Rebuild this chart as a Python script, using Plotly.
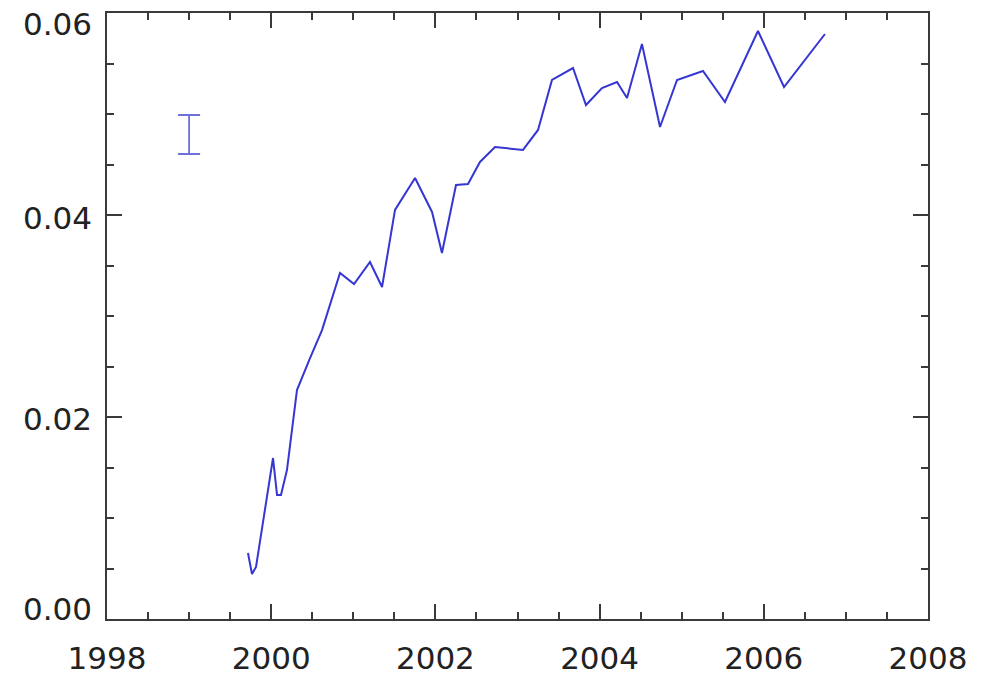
import plotly.graph_objects as go

# Time axis in decimal years and the measured fraction
years = [1999.717, 1999.766, 1999.815, 2000.022, 2000.071, 2000.119, 2000.192,
         2000.314, 2000.473, 2000.619, 2000.838, 2001.009, 2001.203, 2001.350,
         2001.508, 2001.752, 2001.959, 2002.080, 2002.251, 2002.397, 2002.543,
         2002.726, 2003.067, 2003.250, 2003.420, 2003.676, 2003.834, 2004.029,
         2004.212, 2004.334, 2004.516, 2004.736, 2004.943, 2005.259, 2005.527,
         2005.929, 2006.246, 2006.745]
values = [0.00653, 0.00446, 0.00515, 0.01594, 0.01228, 0.01228, 0.01475,
          0.02267, 0.02584, 0.02861, 0.03426, 0.03317, 0.03535, 0.03287,
          0.04050, 0.04366, 0.04030, 0.03624, 0.04297, 0.04307, 0.04525,
          0.04673, 0.04644, 0.04842, 0.05337, 0.05455, 0.05089, 0.05257,
          0.05317, 0.05158, 0.05693, 0.04871, 0.05337, 0.05426, 0.05119,
          0.05822, 0.05267, 0.05792]

# Representative uncertainty shown as a single error bar
err_x = [1999.0]
err_center = [0.04797]
err_half = [0.00193]

x_ticks = [1998, 2000, 2002, 2004, 2006, 2008]
y_ticks = [0.00, 0.02, 0.04, 0.06]
y_tick_text = ["0.00", "0.02", "0.04", "0.06"]

# y labels are written beside the axis; the end labels sit inside the frame
y_label_shift = [10, -2, -3, -11]

line_color = "#3636d2"
axis_color = "#3a3a3a"
font = dict(family="DejaVu Sans, Verdana, sans-serif", size=31, color="#222222")

fig = go.Figure()
fig.add_trace(go.Scatter(
    x=years, y=values, mode="lines",
    line=dict(color=line_color, width=2),
    showlegend=False, hoverinfo="skip",
))
fig.add_trace(go.Scatter(
    x=err_x, y=err_center, mode="markers",
    marker=dict(size=1, color="rgba(0,0,0,0)"),
    error_y=dict(type="data", array=err_half, visible=True,
                 color="#6f6fdc", thickness=1.8, width=11),
    showlegend=False, hoverinfo="skip",
))

axis_common = dict(
    showgrid=False, zeroline=False, automargin=False,
    showline=True, linecolor=axis_color, linewidth=2, mirror="ticks",
    ticks="inside", ticklen=15, tickwidth=1.5, tickcolor=axis_color,
    tickfont=font,
)

fig.update_xaxes(
    range=[1998, 2008], tickmode="array", tickvals=x_ticks,
    ticktext=[str(t) for t in x_ticks], ticklabelstandoff=11,
    minor=dict(ticks="inside", dtick=0.5, ticklen=7, tickwidth=1.5,
               tickcolor=axis_color, showgrid=False),
    **axis_common,
)
fig.update_yaxes(
    range=[0.0, 0.06], tickmode="array", tickvals=y_ticks,
    showticklabels=False,
    minor=dict(ticks="inside", dtick=0.005, ticklen=7, tickwidth=1.5,
               tickcolor=axis_color, showgrid=False),
    **axis_common,
)

for val, txt, dy in zip(y_ticks, y_tick_text, y_label_shift):
    fig.add_annotation(
        x=0, xref="paper", y=val, yref="y",
        text=txt, showarrow=False, font=font,
        xanchor="right", yanchor="middle", xshift=-13, yshift=dy,
    )

fig.update_layout(
    width=985, height=676,
    margin=dict(l=107, r=57, t=13, b=57),
    paper_bgcolor="white", plot_bgcolor="white",
    font=font,
)

fig.write_html("out.html")
